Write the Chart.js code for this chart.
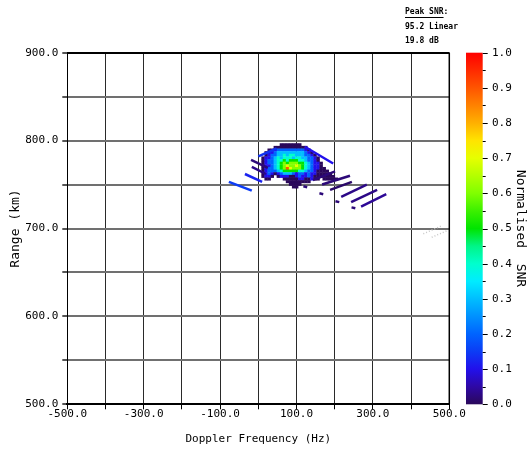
<!DOCTYPE html>
<html lang="en">
<head>
<meta charset="UTF-8">
<title>Range-Doppler SNR map</title>
<script src="https://cdn.jsdelivr.net/npm/chart.js"></script>
<style>
  html, body { margin: 0; padding: 0; background: #fff; }
</style>
</head>
<body>
<canvas id="rdMap" width="529" height="449"></canvas>

<script>
// axis ranges
const dopplerLimits = [-500, 500];
const rangeLimits = [500, 900];
const snrLimits = [0, 1];

// peak annotation, top right
const peakLines = ["Peak SNR:", "95.2 Linear", "19.8 dB"];

// SNR cells. One string per 3 km range row, starting at 797 km and going down.
// One char per 8 Hz doppler bin starting at -16 Hz. Digit = SNR in tenths, '.' = nothing.
const cellDopplerStart = -16;
const cellDopplerStep = 8;
const cellRangeStart = 797;
const cellRangeStep = -3;
const snrRows = [
    ".........0000000",
    ".......00000000000",
    ".....00122222222210",
    "....0112333333333210",
    "....01223343443332210",
    "...0112343444344332210",
    "...0122344545554432210",
    "...01223456566655432110",
    "...01123456766765432110",
    "...012234569766654321100",
    "...0122234555554432210000",
    "...01210123332122121100000",
    "...0110.0111001211210000000",
    "....00....000001100100.00000",
    "...........00000000",
    "............0000",
    ".............00"
];

// streaky returns around the target: doppler (Hz) and range (km) end points, SNR
const streakDoppler = [
    [0, 48], [122, 196], [-77, -17], [-19, 25], [-35, 10], [-17, 20],
    [143, 201], [167, 240], [188, 245], [217, 284], [243, 311], [269, 335],
    [118, 128], [160, 170], [202, 212], [244, 254]
];
const streakRange = [
    [782, 791], [793, 774], [753, 743], [778, 769], [762, 753], [770, 762],
    [755, 765], [750, 760], [744, 753], [736, 750], [730, 744], [725, 739],
    [748, 747], [740, 739], [731, 730], [724, 723]
];
const streakSnr = [0.14, 0.1, 0.15, 0.02, 0.12, 0.03, 0.02, 0.02, 0.01, 0.03, 0.03, 0.04, 0.02, 0.02, 0.02, 0.02];

// faint returns near the right edge
const faintDoppler = [[432, 480], [454, 497]];
const faintRange = [[694, 703], [690, 698]];

// colour map (jet-like, dark purple -> red)
const cmapStops = [
    [0.00, [42, 8, 90]], [0.05, [46, 8, 165]], [0.10, [34, 16, 235]], [0.15, [12, 60, 245]],
    [0.20, [0, 100, 255]], [0.25, [0, 145, 255]], [0.30, [0, 190, 255]], [0.35, [0, 236, 255]],
    [0.40, [0, 255, 205]], [0.45, [0, 245, 135]], [0.50, [0, 228, 0]], [0.55, [60, 240, 0]],
    [0.60, [128, 255, 0]], [0.65, [180, 255, 0]], [0.70, [230, 255, 0]], [0.75, [255, 228, 0]],
    [0.80, [255, 176, 0]], [0.85, [255, 130, 0]], [0.90, [255, 85, 0]], [0.95, [255, 42, 0]],
    [1.00, [255, 0, 0]]
];

function snrColor(v) {
    for (let k = 1; k < cmapStops.length; k++) {
        const [v1, c1] = cmapStops[k];
        if (v <= v1) {
            const [v0, c0] = cmapStops[k - 1];
            const t = (v - v0) / (v1 - v0);
            const c = c0.map((a, n) => Math.round(a + (c1[n] - a) * t));
            return `rgb(${c[0]},${c[1]},${c[2]})`;
        }
    }
    return "rgb(255,0,0)";
}

const monoFont = "'DejaVu Sans Mono', monospace";

const streakSets = streakSnr.map((v, k) => ({
    data: streakDoppler[k].map((d, n) => ({ x: d, y: streakRange[k][n] })),
    borderColor: snrColor(v),
    borderWidth: 2.5,
    borderCapStyle: "butt",
    pointRadius: 0
}));

const faintSets = faintDoppler.map((dd, k) => ({
    data: dd.map((d, n) => ({ x: d, y: faintRange[k][n] })),
    borderColor: "#c8c8c8",
    borderWidth: 1.5,
    borderDash: [1, 2],
    pointRadius: 0
}));

// draws the SNR cells under the streaks
const heatmapPlugin = {
    id: "heatmap",
    beforeDatasetsDraw(chart) {
        const { ctx, chartArea, scales: { x, y } } = chart;
        ctx.save();
        ctx.beginPath();
        ctx.rect(chartArea.left, chartArea.top, chartArea.width, chartArea.height);
        ctx.clip();
        snrRows.forEach((row, j) => {
            const r1 = cellRangeStart + j * cellRangeStep;
            const y1 = y.getPixelForValue(r1);
            const y2 = y.getPixelForValue(r1 + cellRangeStep);
            [...row].forEach((c, i) => {
                if (c === ".") return;
                const v = c === "a" ? 1 : Number(c) / 10;
                const d1 = cellDopplerStart + i * cellDopplerStep;
                const x1 = x.getPixelForValue(d1);
                const x2 = x.getPixelForValue(d1 + cellDopplerStep);
                ctx.fillStyle = snrColor(v);
                ctx.fillRect(x1, y1, x2 - x1 + 0.4, y2 - y1 + 0.4);
            });
        });
        ctx.restore();
    }
};

// colour bar next to the plot, plus the peak text
const colorbarPlugin = {
    id: "colorbar",
    afterDraw(chart) {
        const { ctx, chartArea } = chart;
        const cb = chart.scales.cb;
        const x0 = cb.left + 16.7, w = 16.7;
        const yTop = cb.getPixelForValue(1), yBot = cb.getPixelForValue(0);
        const grad = ctx.createLinearGradient(0, yBot, 0, yTop);
        cmapStops.forEach(([v, c]) => grad.addColorStop(v, `rgb(${c[0]},${c[1]},${c[2]})`));
        ctx.save();
        ctx.fillStyle = grad;
        ctx.fillRect(x0, yTop, w, yBot - yTop);
        ctx.strokeStyle = "#000";
        ctx.lineWidth = 1;
        for (let k = 0; k <= 20; k++) {
            const py = Math.round(cb.getPixelForValue(k / 20)) + 0.5;
            const len = k % 2 === 0 ? 5 : 3;
            ctx.beginPath();
            ctx.moveTo(x0 + w, py);
            ctx.lineTo(x0 + w + len, py);
            ctx.stroke();
        }
        // right edge of the plot
        ctx.beginPath();
        ctx.lineWidth = 1.5;
        ctx.moveTo(chartArea.right, chartArea.top);
        ctx.lineTo(chartArea.right, chartArea.bottom);
        ctx.stroke();

        ctx.fillStyle = "#000";
        ctx.font = "bold 8px " + monoFont;
        ctx.textBaseline = "middle";
        const ys = [12, 27, 41];
        peakLines.forEach((t, k) => ctx.fillText(t, 405, ys[k]));
        const uw = ctx.measureText("Peak SNR").width;
        ctx.fillRect(405, 17, uw, 1);
        ctx.restore();
    }
};

Chart.defaults.color = "#000";
Chart.defaults.font.family = monoFont;
Chart.defaults.font.size = 11;

new Chart(document.getElementById("rdMap"), {
    type: "line",
    data: { datasets: [...streakSets, ...faintSets] },
    options: {
        responsive: false,
        devicePixelRatio: 1,
        animation: false,
        layout: { padding: { top: 52.7, left: 0, right: 0, bottom: 0 } },
        plugins: { legend: { display: false }, tooltip: { enabled: false } },
        scales: {
            x: {
                type: "linear",
                min: dopplerLimits[0],
                max: dopplerLimits[1],
                afterFit: s => { s.height = 44.7; },
                ticks: {
                    stepSize: 100,
                    autoSkip: false,
                    maxRotation: 0,
                    padding: -2,
                    callback: v => (Math.abs(Math.round(v / 100)) % 2 === 1 ? v.toFixed(1) : "")
                },
                grid: {
                    color: ctx => (ctx.tick && ctx.tick.value === 500 ? "#000" : "#2a2a2a"),
                    tickColor: "#000",
                    tickLength: 5,
                    lineWidth: 1
                },
                border: { color: "#000", width: 2 },
                title: {
                    display: true,
                    text: "Doppler Frequency (Hz)",
                    font: { size: 11 },
                    padding: { top: 0, bottom: 3.4 }
                }
            },
            y: {
                type: "linear",
                min: rangeLimits[0],
                max: rangeLimits[1],
                afterFit: s => { s.width = 67.3; },
                ticks: {
                    stepSize: 50,
                    autoSkip: false,
                    padding: 4,
                    callback: v => (v % 100 === 0 ? v.toFixed(1) : "")
                },
                grid: {
                    color: ctx => (ctx.tick && ctx.tick.value === 900 ? "#000" : "#707070"),
                    lineWidth: 2,
                    tickColor: "#555",
                    tickLength: 5
                },
                border: { color: "#000", width: 1 },
                title: {
                    display: true,
                    text: "Range (km)",
                    font: { size: 13 },
                    padding: { top: 8.2, bottom: 0 }
                }
            },
            cb: {
                type: "linear",
                position: "right",
                min: snrLimits[0],
                max: snrLimits[1],
                afterFit: s => { s.width = 79.7; },
                ticks: {
                    stepSize: 0.1,
                    autoSkip: false,
                    padding: 0,
                    callback: v => v.toFixed(1)
                },
                // invisible tick marks push the labels past the colour bar
                grid: {
                    display: true,
                    drawOnChartArea: false,
                    drawTicks: true,
                    tickLength: 42.7,
                    tickColor: "rgba(0,0,0,0)"
                },
                border: { display: false },
                title: {
                    display: true,
                    text: "Normalised  SNR",
                    font: { size: 13 },
                    padding: { top: 1.2, bottom: 0 }
                }
            }
        }
    },
    plugins: [heatmapPlugin, colorbarPlugin]
});
</script>
</body>
</html>
